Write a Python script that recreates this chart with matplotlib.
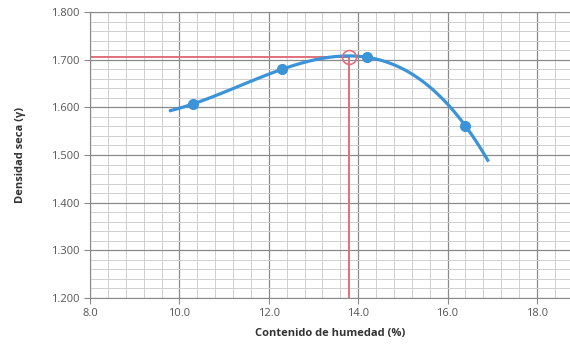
import numpy as np
import matplotlib.pyplot as plt
from matplotlib.ticker import MultipleLocator

# ensayo proctor: humedad (%) vs densidad seca
humedad = [10.3, 12.3, 14.2, 16.4]
densidad = [1.607, 1.680, 1.705, 1.561]
x_inicio, x_fin = 9.8, 16.9
hum_optima = 13.8
dens_max = 1.705

plt.rcParams['font.family'] = ['Open Sans', 'DejaVu Sans']

fig = plt.figure(figsize=(5.7, 3.48), dpi=100)
ax = fig.add_axes([0.158, 0.1437, 0.842, 0.8218])

# trendline (cubic, like the spreadsheet one)
coef = np.polyfit(humedad, densidad, 3)
xs = np.linspace(x_inicio, x_fin, 200)
ax.plot(xs, np.polyval(coef, xs), color='#3b93d8', lw=2.3, zorder=3)
ax.plot(humedad, densidad, 'o', color='#3b93d8', ms=7, zorder=4)

# lines for optimum
ax.plot([8, hum_optima], [dens_max, dens_max], color='#e0707a', lw=1.4, zorder=2)
ax.plot([hum_optima, hum_optima], [1.2, dens_max], color='#e0707a', lw=1.4, zorder=2)
ax.plot(hum_optima, dens_max, 'o', mfc='none', mec='#e0707a', ms=10, mew=1.2, zorder=5)

ax.set_xlim(8, 18.74)
ax.set_ylim(1.2, 1.8)
ax.xaxis.set_major_locator(MultipleLocator(2))
ax.xaxis.set_minor_locator(MultipleLocator(0.4))
ax.yaxis.set_major_locator(MultipleLocator(0.1))
ax.yaxis.set_minor_locator(MultipleLocator(0.02))
ax.set_xticklabels([f'{v:.1f}' for v in ax.get_xticks()])
ax.yaxis.set_major_formatter(plt.FuncFormatter(lambda v, p: f'{v:.3f}'))

ax.grid(which='major', color='#8a8a8a', lw=0.9)
ax.grid(which='minor', color='#d0d0d0', lw=0.7)
ax.set_axisbelow(True)

for s in ['left', 'top', 'bottom']:
    ax.spines[s].set_color('#8a8a8a')
ax.spines['right'].set_visible(False)
ax.tick_params(which='major', length=4, color='#8a8a8a', labelsize=8, labelcolor='#555555')
ax.tick_params(which='minor', length=0)

ax.set_xlabel('Contenido de humedad (%)', fontsize=8, fontweight='bold', color='#333333', labelpad=6)
ax.set_ylabel('Densidad seca (γ)', fontsize=8, fontweight='bold', color='#333333', labelpad=18)

fig.savefig('out.png', dpi=100)
